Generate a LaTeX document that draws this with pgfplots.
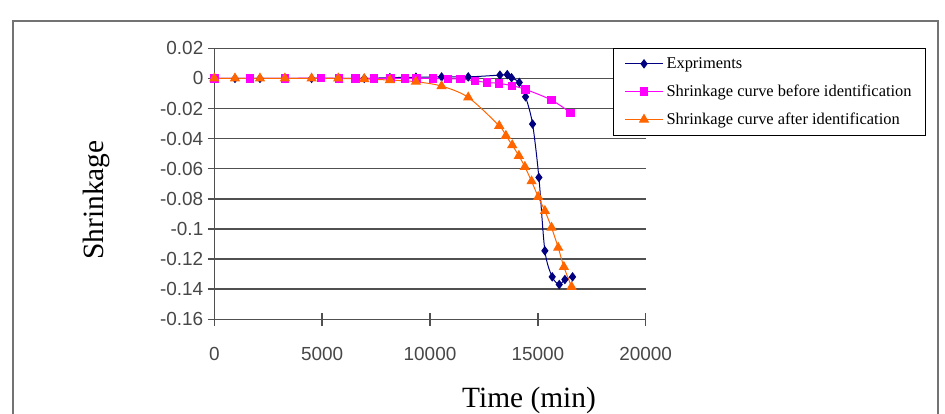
\documentclass[border=0pt]{standalone}
\usepackage{pgfplots}
\pgfplotsset{compat=1.18}
\usepackage{fontspec}
\setmainfont{Liberation Serif}
\newfontfamily\arialfont{Liberation Sans}

\definecolor{expblue}{RGB}{0,0,128}
\definecolor{befpink}{RGB}{255,0,255}
\definecolor{aftorange}{RGB}{255,102,0}
\definecolor{gridgray}{RGB}{80,80,80}

\begin{document}
\begin{tikzpicture}
\path[use as bounding box] (0,0) rectangle (945bp,-414bp);
% chart frame
\draw[line width=1.3bp, color=black!55] (13bp,-414bp) -- (13bp,-21bp) -- (938bp,-21bp) -- (938bp,-414bp);
\begin{axis}[
  at={(214.3bp,-319.3bp)}, anchor=south west,
  scale only axis, width=431.4bp, height=271bp,
  xmin=0, xmax=20000, ymin=-0.16, ymax=0.02,
  xtick={0,5000,10000,15000,20000},
  ytick={-0.16,-0.14,-0.12,-0.1,-0.08,-0.06,-0.04,-0.02,0,0.02},
  axis x line=bottom, axis y line=left,
  axis line style={-, color=gridgray, line width=1.4bp},
  ymajorgrids, grid style={color=gridgray, line width=1.4bp},
  tick style={color=gridgray, line width=1.4bp},
  tick align=center, major tick length=13bp,
  scaled x ticks=false, scaled y ticks=false,
  /pgf/number format/assume math mode=true,
  /pgf/number format/set thousands separator={},
  ticklabel style={font=\arialfont\fontsize{19}{19}\selectfont, color=black!72},
  yticklabel style={/pgf/number format/fixed, /pgf/number format/precision=2, xshift=-1bp},
  xticklabel style={yshift=-18bp},
  xlabel={Time (min)}, ylabel={Shrinkage},
  label style={font=\fontsize{29.5}{30}\selectfont},
  xlabel style={at={(axis description cs:0.7295,-0.298)}, anchor=center},
  ylabel style={at={(axis description cs:-0.274,0.44)}, anchor=center},
  legend style={at={(0.924,1.001)}, anchor=north west, draw=black, line width=1.2bp,
    fill=white, font=\fontsize{16.5}{17}\selectfont, inner xsep=11bp, inner ysep=7bp,
    row sep=11bp, legend cell align=left,
    nodes={inner xsep=3bp}},
  legend image code/.code={\draw[mark repeat=2,mark phase=2] plot coordinates {(0bp,0bp)(19bp,0bp)(38bp,0bp)};},
  clip=false,
]
\addplot[expblue, line width=1bp, smooth, tension=0.5, mark=diamond*, mark size=4bp, mark options={fill=expblue, solid}]
  coordinates {
  (0,0) (958,0) (2117,0) (3275,0) (4511,0) (5747,0) (6953,0)
  (8142,0.0005) (9347,0.0008) (10537,0.001) (11773,0.001)
  (13241,0.0022) (13581,0.0025) (13781,0.0004) (14137,-0.0027)
  (14430,-0.0122) (14755,-0.0303) (15048,-0.0658) (15326,-0.1145)
  (15666,-0.1318) (15991,-0.1369) (16253,-0.1336) (16609,-0.1318)
  };
\addlegendentry{Expriments}
\addplot[befpink, line width=1bp, smooth, tension=0.5, mark=square*, mark size=3.7bp, mark options={fill=befpink, solid}]
  coordinates {
  (0,0) (1653,0) (3275,0) (4944,0.0003) (5778,0) (6551,0) (7400,0)
  (8173,0) (8837,0) (9378,0) (10151,0) (10846,-0.0003) (11418,-0.0004)
  (12082,-0.0016) (12654,-0.0027) (13210,-0.0033) (13812,-0.0049)
  (14430,-0.0073) (15635,-0.0144) (16516,-0.0228)
  };
\addlegendentry{Shrinkage curve before identification}
\addplot[aftorange, line width=1bp, smooth, tension=0.5, mark=triangle*, mark size=5bp, mark options={fill=aftorange, solid}]
  coordinates {
  (0,0) (958,0) (2117,0) (3275,0) (4511,0) (5747,0) (6953,-0.0004)
  (8142,-0.0011) (9347,-0.0022) (10537,-0.0051) (11773,-0.0126)
  (13210,-0.0315) (13519,-0.0381) (13812,-0.0443) (14121,-0.0514)
  (14399,-0.0587) (14708,-0.0683) (15017,-0.0787) (15326,-0.0880)
  (15635,-0.0991) (15944,-0.1124) (16207,-0.1252) (16562,-0.1384)
  };
\addlegendentry{Shrinkage curve after identification}
\end{axis}
\end{tikzpicture}
\end{document}
